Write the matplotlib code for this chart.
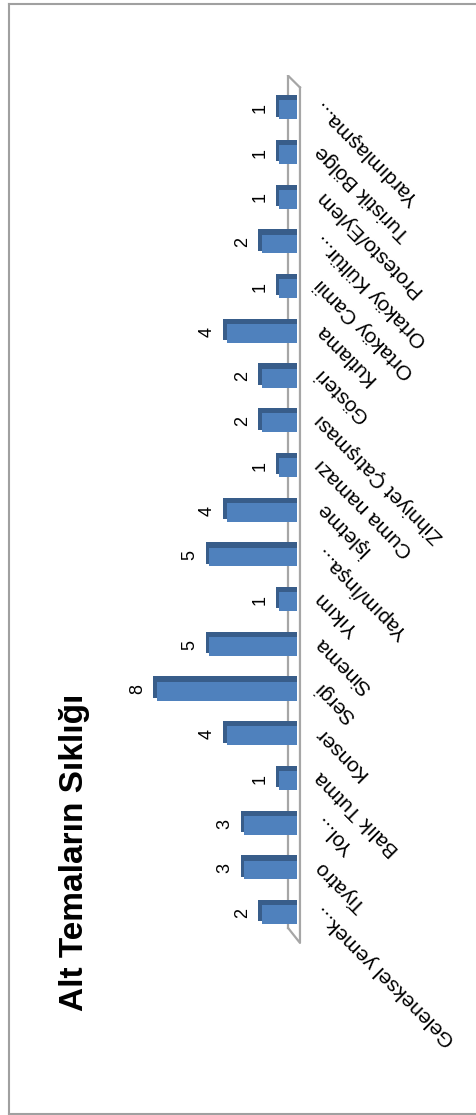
import matplotlib
matplotlib.use("Agg")
import matplotlib.pyplot as plt
from matplotlib.lines import Line2D

# data (first category is drawn at the bottom)
categories = ["Geleneksel yemek...", "Tiyatro", "Yol...", "Balık Tutma", "Konser",
              "Sergi", "Sinema", "Yıkım", "Yapım/İnşa...", "İşletme",
              "Cuma namazı", "Zihniyet Çatışması", "Gösteri", "Kutlama",
              "Ortaköy Camii", "Ortaköy Kültür...", "Protesto/Eylem",
              "Turistik Bölge", "Yardımlaşma..."]
values = [2, 3, 3, 1, 4, 8, 5, 1, 5, 4, 1, 2, 2, 4, 1, 2, 1, 1, 1]
title = "Alt Temaların Sıklığı"

plt.rcParams['font.family'] = ['Liberation Sans', 'DejaVu Sans']

W, H = 477, 1115
fig = plt.figure(figsize=(W / 100, H / 100), dpi=100)

# chart is drawn turned a quarter turn: columns run leftwards from the floor
ax = fig.add_axes([139.5 / W, 1 - 946.5 / H, 175 / W, (946.5 - 74.5) / H])
ax.set_xlim(9, -1)
ax.set_ylim(-0.75, len(categories) - 0.25)
ax.axis('off')

ypos = list(range(len(categories)))

# floor of the 3d plot
n = len(categories)
ax.plot([0.5, 0.5], [-0.34, n - 0.28], color='#A6A6A6', lw=1.6, zorder=1)
ax.plot([-0.17, -0.17, 0.5], [n - 0.54, -0.67, -0.34], color='#A6A6A6', lw=1.6, zorder=4)
ax.plot([0.5, -0.17, -0.17], [n - 0.28, n - 0.54, n - 0.54], color='#A6A6A6', lw=1.6, zorder=4)

# dark side face + front face
ax.barh([y + 0.05 for y in ypos], [v + 0.2 for v in values], height=0.48,
        left=0, color='#385D8A', zorder=2)
ax.barh([y - 0.04 for y in ypos], values, height=0.42, left=0,
        color='#4F81BD', zorder=3)

for y, v in zip(ypos, values):
    ax.annotate(str(v), xy=(v, y), xytext=(-14, 0), textcoords='offset points',
                rotation=90, ha='center', va='center', fontsize=13)

for y, c in zip(ypos, categories):
    ax.text(-1.2, y + 0.1, c, rotation=135, rotation_mode='anchor',
            ha='right', va='center', fontsize=15)

fig.text(75 / W, 1 - 852 / H, title, rotation=90, ha='center', va='center',
         fontsize=24, fontweight='bold')

# chart border
kw = dict(color='#A0A0A0', lw=1.5, transform=fig.transFigure)
fig.add_artist(Line2D([9.5 / W, 9.5 / W], [1 - 3.5 / H, 1 - 1113.5 / H], **kw))
fig.add_artist(Line2D([9.5 / W, 1], [1 - 3.5 / H, 1 - 3.5 / H], **kw))
fig.add_artist(Line2D([9.5 / W, 1], [1 - 1113.5 / H, 1 - 1113.5 / H], **kw))

fig.savefig('out.png', dpi=100)
